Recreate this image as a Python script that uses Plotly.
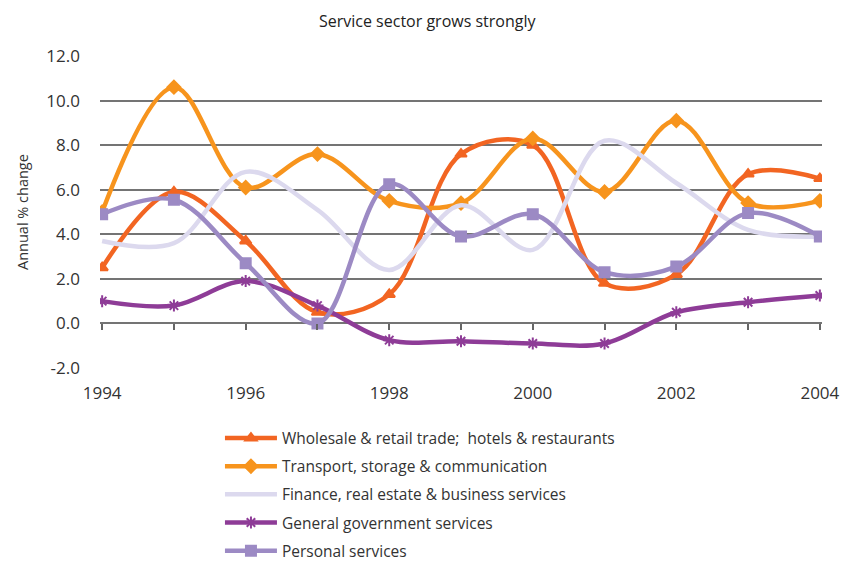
import plotly.graph_objects as go

years = list(range(1994, 2005))

wholesale = [2.5, 5.9, 3.7, 0.5, 1.3, 7.6, 8.0, 1.8, 2.2, 6.7, 6.5]
transport = [5.0, 10.6, 6.1, 7.6, 5.5, 5.4, 8.3, 5.9, 9.1, 5.4, 5.5]
finance = [3.7, 3.6, 6.8, 5.1, 2.4, 5.3, 3.3, 8.2, 6.3, 4.2, 3.9]
government = [1.0, 0.8, 1.9, 0.8, -0.75, -0.8, -0.9, -0.9, 0.5, 0.95, 1.25]
personal = [4.9, 5.55, 2.7, 0.0, 6.25, 3.9, 4.9, 2.3, 2.55, 4.95, 3.9]

series = [
    ("Wholesale & retail trade;  hotels & restaurants", wholesale, "#f26522", "triangle-up"),
    ("Transport, storage & communication", transport, "#f7941d", "diamond"),
    ("Finance, real estate & business services", finance, "#dcd9ee", None),
    ("General government services", government, "#8e3c97", "asterisk-open"),
    ("Personal services", personal, "#9c8ac4", "square"),
]

y_ticks = [-2, 0, 2, 4, 6, 8, 10, 12]
x_labels = [1994, 1996, 1998, 2000, 2002, 2004]

font_family = "'Open Sans', Lato, sans-serif"
text_color = "#333333"

fig = go.Figure()
for i, (name, vals, color, symbol) in enumerate(series):
    mode = "lines+markers" if symbol else "lines"
    marker = dict(color=color, size=10, symbol=symbol or "circle",
                  line=dict(color=color, width=2))
    fig.add_trace(go.Scatter(
        x=years, y=vals, name=name, mode=mode,
        line=dict(color=color, width=4.5, shape="spline", smoothing=1.0),
        marker=marker, legendgroup=f"g{i}",
    ))

# carrier trace for the secondary x axis that draws year ticks on the zero line
fig.add_trace(go.Scatter(x=[years[0]], y=[None], xaxis="x2", showlegend=False,
                         hoverinfo="skip"))

fig.update_layout(
    width=846, height=565,
    margin=dict(l=100, r=24, t=56, b=197, autoexpand=False),
    paper_bgcolor="white", plot_bgcolor="white",
    font=dict(family=font_family, color=text_color, size=15),
    title=dict(text="Service sector grows strongly", x=0.505, xanchor="center",
               y=0.962, yanchor="middle", font=dict(size=16, color="#222")),
    showlegend=True,
    legend=dict(orientation="v", xref="container", yref="container",
                x=0.26, xanchor="left", y=0.254, yanchor="top",
                font=dict(size=15.5, color=text_color), tracegroupgap=5,
                itemwidth=52, bgcolor="rgba(0,0,0,0)"),
    xaxis=dict(range=[1993.97, 2004.03], tickmode="array", tickvals=x_labels,
               ticktext=[str(v) for v in x_labels], showgrid=False, zeroline=False,
               showline=False, ticks="", ticklabelstandoff=13,
               tickfont=dict(size=17, color=text_color)),
    xaxis2=dict(range=[1993.97, 2004.03], overlaying="x", anchor="free",
                position=2 / 14, tickmode="array", tickvals=years,
                showticklabels=False, ticks="outside", ticklen=6, tickwidth=1.5,
                tickcolor="#666", showgrid=False, zeroline=False, showline=False),
    yaxis=dict(range=[-2, 12], tickmode="array", tickvals=y_ticks,
               ticktext=[f"{v:.1f}" for v in y_ticks], showgrid=True,
               gridcolor="#747474", gridwidth=2, zeroline=False, showline=False,
               ticks="", ticklabelstandoff=19,
               tickfont=dict(size=17, color=text_color)),
    annotations=[dict(text="Annual % change", textangle=-90, showarrow=False,
                      xref="paper", yref="paper", x=-0.108, y=0.5,
                      xanchor="center", yanchor="middle",
                      font=dict(size=14.5, color=text_color))],
)

fig.write_html("out.html")
